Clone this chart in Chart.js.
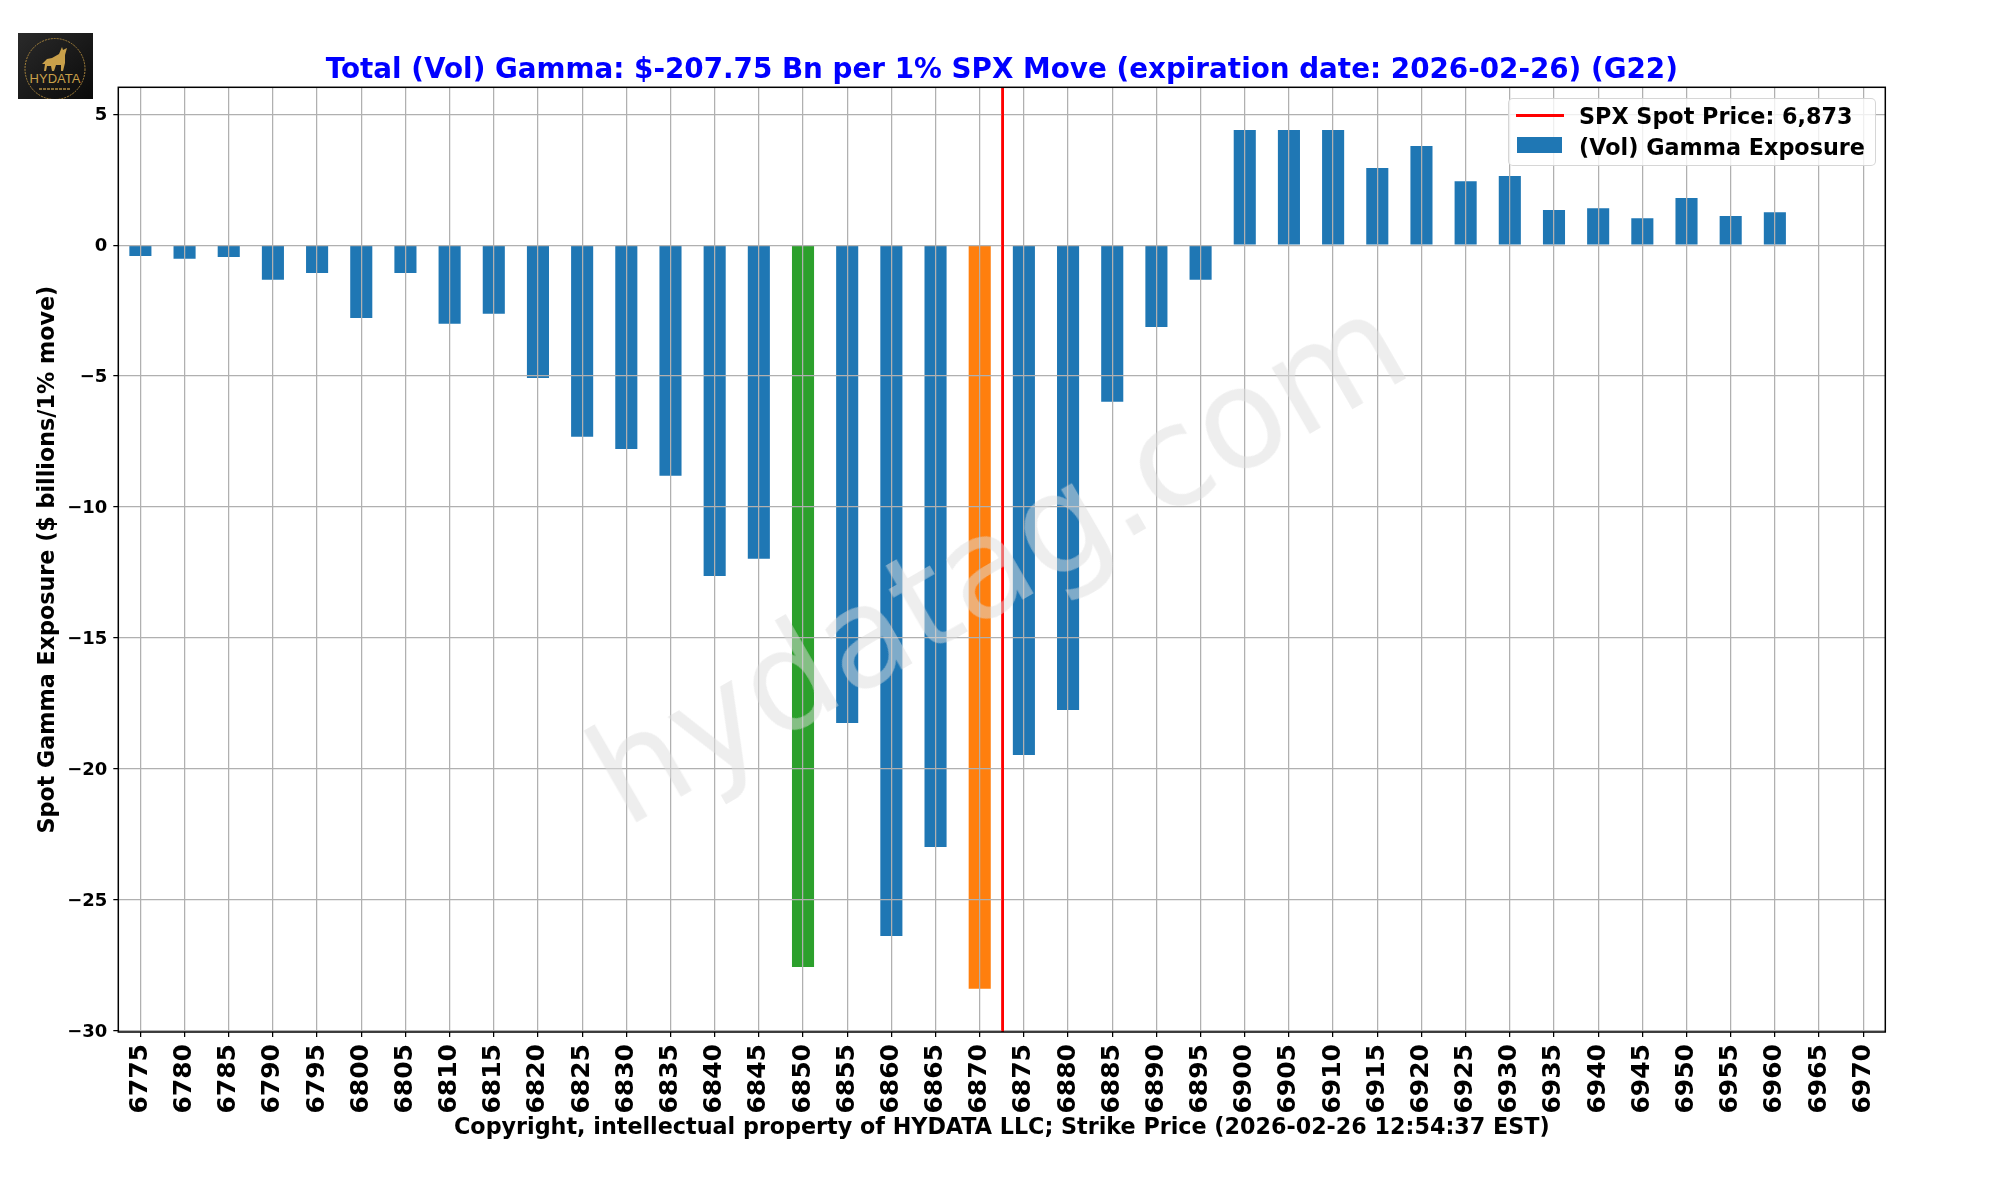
<!DOCTYPE html>
<html>
<head>
<meta charset="utf-8">
<title>Total (Vol) Gamma</title>
<script src="https://cdn.jsdelivr.net/npm/chart.js@4"></script>
<style>
  body { margin: 0; background: #fff; font-family: "DejaVu Sans", sans-serif; }
  #wrap { position: relative; width: 2000px; height: 1200px; overflow: hidden; }
  #logo { position: absolute; left: 18px; top: 33px; }
  #watermark {
    position: absolute; left: 997px; top: 559px; white-space: nowrap;
    font-size: 139px; color: rgba(221, 221, 221, 0.5);
    transform: translate(-50%, -50%) rotate(-30deg); pointer-events: none;
  }
  #legend {
    position: absolute; left: 1508px; top: 98px; width: 368px; height: 68px; box-sizing: border-box;
    background: rgba(255, 255, 255, 0.8); border: 1.5px solid rgba(204, 204, 204, 0.8); border-radius: 5px;
    font-size: 22.3px; font-weight: bold; color: #000;
  }
  #legend span { position: absolute; }
  #legend .label { left: 70px; white-space: nowrap; line-height: 26px; }
</style>
</head>
<body>
<div id="wrap">
  <canvas id="canvas1" width="2000" height="1200"></canvas>

  <svg id="logo" width="75" height="66" viewBox="0 0 75 66">
    <defs>
      <linearGradient id="bg" x1="0" y1="0" x2="1" y2="1">
        <stop offset="0" stop-color="#2a2a2a"/><stop offset="1" stop-color="#0a0a0a"/>
      </linearGradient>
    </defs>
    <rect width="75" height="66" fill="url(#bg)"/>
    <ellipse cx="37" cy="36" rx="30" ry="30.5" fill="none" stroke="#a8843c" stroke-width="1" stroke-dasharray="2 1"/>
    <path d="M24 31 L29 26 L34 25 L41 21 L44 14 L45 17 L49 15 L47 22 L47 30 L45 38 L43 38 L43 32 L38 32 L36 38 L34 38 L33 33 L29 33 L28 38 L26 38 L27 31 Z" fill="#c9a04a"/>
    <text x="37" y="50" text-anchor="middle" font-size="13" font-family="Liberation Sans" fill="#c9a04a">HYDATA</text>
    <line x1="21" y1="56" x2="53" y2="56" stroke="#8a6f36" stroke-width="2" stroke-dasharray="3 1"/>
  </svg>

  <div id="watermark">hydatag.com</div>

  <div id="legend">
    <span id="swatchLine" style="left:7px;top:15px;width:48px;height:3px;background:#ff0000"></span>
    <span class="label" id="labelSpot" style="top:4px"></span>
    <span id="swatchBar" style="left:8px;top:38px;width:45px;height:16px;background:#1f77b4"></span>
    <span class="label" id="labelGamma" style="top:35px"></span>
  </div>
</div>

<script>
// data
const strikes = [6775, 6780, 6785, 6790, 6795, 6800, 6805, 6810, 6815, 6820,
  6825, 6830, 6835, 6840, 6845, 6850, 6855, 6860, 6865, 6870,
  6875, 6880, 6885, 6890, 6895, 6900, 6905, 6910, 6915, 6920,
  6925, 6930, 6935, 6940, 6945, 6950, 6955, 6960, 6965, 6970];
const gammaValues = [-0.41, -0.52, -0.45, -1.32, -1.06, -2.78, -1.06, -3.0, -2.62, -5.07,
  -7.32, -7.78, -8.81, -12.63, -11.98, -27.57, -18.25, -26.38, -22.98, -28.4,
  -19.47, -17.75, -5.98, -3.12, -1.32, 4.4, 4.4, 4.4, 2.95, 3.79,
  2.44, 2.64, 1.34, 1.41, 1.03, 1.8, 1.11, 1.26, null, null];
const yTickValues = [-30, -25, -20, -15, -10, -5, 0, 5];
const highlightStrikes = { 6850: "#2ca02c", 6870: "#ff7f0e" };
const spotLineIndex = 19.52;  // position between the 6870 and 6875 categories

const yMin = -30.05, yMax = 6.03;
const titleText = "Total (Vol) Gamma: $-207.75 Bn per 1% SPX Move (expiration date: 2026-02-26) (G22)";
const xTitleText = "Copyright, intellectual property of HYDATA LLC; Strike Price (2026-02-26 12:54:37 EST)";
const yTitleText = "Spot Gamma Exposure ($ billions/1% move)";
const spotLabel = "SPX Spot Price: 6,873";
const gammaLabel = "(Vol) Gamma Exposure";

document.getElementById("labelSpot").textContent = spotLabel;
document.getElementById("labelGamma").textContent = gammaLabel;

const fontName = "'DejaVu Sans'";

// frame around the plot, red line goes back over the grid
const framePlugin = {
  id: "frame",
  afterDraw(chart) {
    const a = chart.chartArea, ctx = chart.ctx;
    chart.getDatasetMeta(1).controller.draw();
    ctx.save();
    ctx.strokeStyle = "#000";
    ctx.lineWidth = 1.5;
    ctx.strokeRect(a.left, a.top, a.right - a.left, a.bottom - a.top);
    ctx.restore();
  }
};

new Chart(document.getElementById("canvas1"), {
  type: "bar",
  data: {
    labels: strikes.map(String),
    datasets: [{
      label: gammaLabel,
      data: gammaValues,
      backgroundColor: strikes.map(s => highlightStrikes[s] || "#1f77b4"),
      categoryPercentage: 1,
      barPercentage: 0.5
    }, {
      type: "line",
      label: spotLabel,
      parsing: false,
      data: [{ x: spotLineIndex, y: yMin }, { x: spotLineIndex, y: yMax }],
      borderColor: "#ff0000",
      borderWidth: 2.6,
      pointRadius: 0
    }]
  },
  options: {
    responsive: false,
    animation: false,
    devicePixelRatio: 1,
    layout: { padding: { left: 0, top: 0, right: 114.7, bottom: 0 } },
    plugins: {
      legend: { display: false },
      tooltip: { enabled: false },
      title: {
        display: true,
        text: titleText,
        fullSize: false,
        color: "#0000ff",
        font: { family: fontName, size: 27.8, weight: "bold", lineHeight: 1 },
        padding: { top: 57, bottom: 2.5 }
      }
    },
    scales: {
      x: {
        offset: true,
        afterFit(axis) { axis.height = 168; },
        grid: { offset: false, z: 1, color: "#b0b0b0", lineWidth: 1.25, tickColor: "#000", tickWidth: 1.25, tickLength: 5 },
        border: { display: false },
        ticks: {
          autoSkip: false, minRotation: 90, maxRotation: 90, padding: 7, color: "#000",
          font: { family: fontName, size: 25, weight: "bold" }
        },
        title: {
          display: true, text: xTitleText, color: "#000",
          font: { family: fontName, size: 22.25, weight: "bold" },
          padding: { top: 0, bottom: 58.3 }
        }
      },
      y: {
        min: yMin,
        max: yMax,
        afterFit(axis) { axis.width = 118.3; },
        afterBuildTicks(axis) { axis.ticks = yTickValues.map(v => ({ value: v })); },
        grid: { z: 1, color: "#b0b0b0", lineWidth: 1.25, tickColor: "#000", tickWidth: 1.25, tickLength: 5 },
        border: { display: false },
        ticks: {
          padding: 6, labelOffset: 1.5, color: "#000",
          font: { family: fontName, size: 18, weight: "bold" },
          callback: v => (v < 0 ? "\u2212" + Math.abs(v) : String(v))
        },
        title: {
          display: true, text: yTitleText, color: "#000",
          font: { family: fontName, size: 22.25, weight: "bold" },
          padding: { top: 34.7, bottom: 0 }
        }
      }
    }
  },
  plugins: [framePlugin]
});
</script>
</body>
</html>
